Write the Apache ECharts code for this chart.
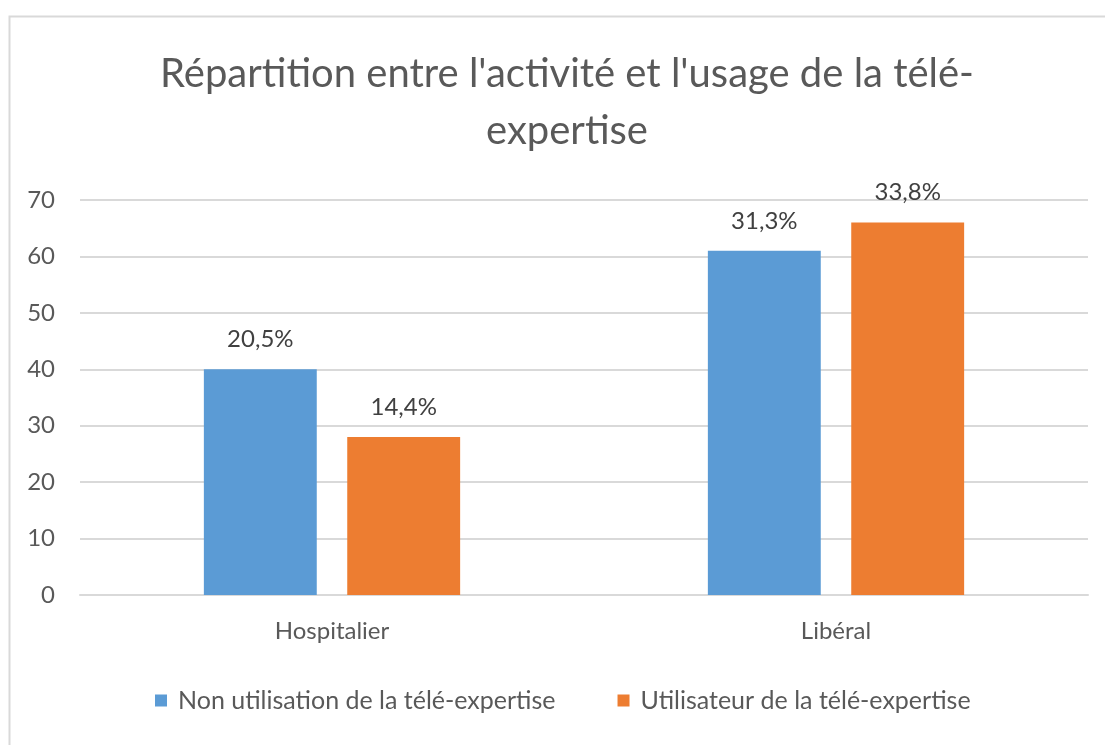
<!DOCTYPE html>
<html>
<head>
<meta charset="utf-8">
<script src="https://cdn.jsdelivr.net/npm/echarts@6/dist/echarts.min.js"></script>
<style>
  html, body { margin: 0; padding: 0; background: #fff; }
  #chart { width: 1105px; height: 745px; }
</style>
</head>
<body>
<div id="chart"></div>
<script>
const categories = ['Hospitalier', 'Libéral'];
const seriesNames = ['Non utilisation de la télé-expertise', 'Utilisateur de la télé-expertise'];
const nonUsers = [40, 61];
const users = [28, 66];
const nonUsersLabels = ['20,5%', '31,3%'];
const usersLabels = ['14,4%', '33,8%'];
const yTicks = [0, 10, 20, 30, 40, 50, 60, 70];

const font = 'Lato, "Open Sans", sans-serif';
const grey = '#595959';

let chart = echarts.init(document.getElementById('chart'));
let option = {
    backgroundColor: '#fff',
    animation: false,
    graphic: [{
        type: 'rect',
        shape: {x: 9.5, y: 16.5, width: 1200, height: 800},
        style: {fill: 'none', stroke: '#d9d9d9', lineWidth: 2}
    }],
    title: {
        text: 'Répartition entre l\'activité et l\'usage de la télé-\nexpertise',
        left: 562,
        top: 41,
        textAlign: 'center',
        textStyle: {
            fontFamily: font,
            fontWeight: 'normal',
            fontSize: 40,
            lineHeight: 57,
            color: grey
        }
    },
    legend: {
        bottom: 27,
        left: 150,
        itemWidth: 12,
        itemHeight: 12,
        itemGap: 62,
        icon: 'rect',
        textStyle: {fontFamily: font, fontSize: 25, color: grey, padding: [0, 0, 0, 6]},
        data: seriesNames
    },
    grid: {left: 80, right: 17, top: 200, bottom: 150},
    xAxis: {
        type: 'category',
        data: categories,
        axisLine: {lineStyle: {color: '#d9d9d9', width: 2}},
        axisTick: {show: false},
        axisLabel: {fontFamily: font, fontSize: 24, color: grey, margin: 24}
    },
    yAxis: {
        type: 'value',
        min: yTicks[0],
        max: yTicks[yTicks.length - 1],
        interval: 10,
        axisLine: {show: false},
        axisTick: {show: false},
        axisLabel: {fontFamily: font, fontSize: 24, color: grey, margin: 25},
        splitLine: {lineStyle: {color: '#d9d9d9', width: 2}}
    },
    series: [
        {
            name: seriesNames[0],
            type: 'bar',
            data: nonUsers,
            barWidth: '22.4%',
            barGap: '27%',
            itemStyle: {color: '#5b9bd5'},
            label: {
                show: true,
                position: 'top',
                distance: 18,
                fontFamily: font,
                fontSize: 24,
                color: '#404040',
                formatter: p => nonUsersLabels[p.dataIndex]
            }
        },
        {
            name: seriesNames[1],
            type: 'bar',
            data: users,
            barWidth: '22.4%',
            barGap: '27%',
            itemStyle: {color: '#ed7d31'},
            label: {
                show: true,
                position: 'top',
                distance: 18,
                fontFamily: font,
                fontSize: 24,
                color: '#404040',
                formatter: p => usersLabels[p.dataIndex]
            }
        }
    ]
};
chart.setOption(option);
</script>
</body>
</html>
